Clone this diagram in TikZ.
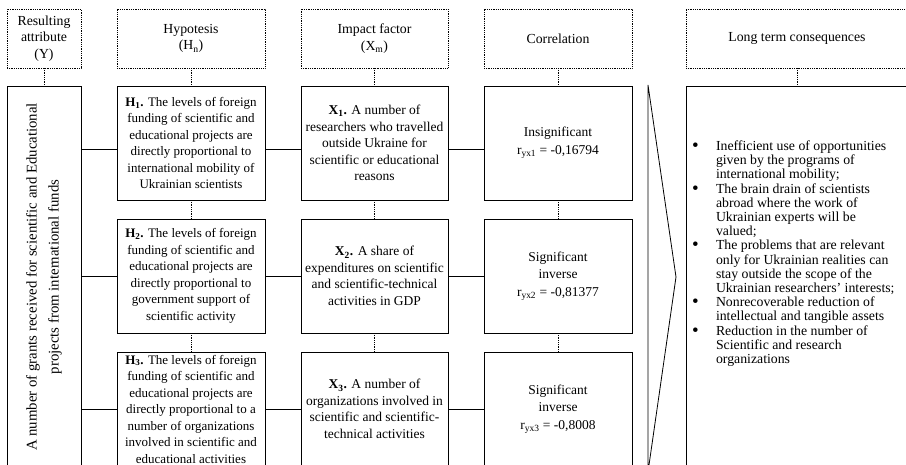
\documentclass[tikz,border=0pt]{standalone}
\usepackage{fontspec}
\setmainfont{Liberation Serif}
\newcommand{\bigbul}{\raisebox{-0.9pt}{\fontsize{19}{14}\selectfont\textbullet}}
\begin{document}
\begin{tikzpicture}[x=1pt,y=-1pt,
  every node/.style={inner sep=0pt, outer sep=0pt},
  hdr/.style={draw, line width=0.7pt, dash pattern=on 0.9pt off 0.9pt, minimum height=59pt, align=center, font=\fontsize{13.8}{16.5}\selectfont},
  cbox/.style={draw, line width=0.8pt, minimum height=114pt, align=center},
  hbox/.style={cbox, minimum width=148pt, font=\fontsize{13}{16.5}\selectfont},
  xbox/.style={cbox, minimum width=147pt, font=\fontsize{13.5}{16.5}\selectfont},
  corbox/.style={cbox, minimum width=148pt, font=\fontsize{13.5}{17.5}\selectfont},
  dotlink/.style={line width=0.7pt, dash pattern=on 0.9pt off 0.9pt},
  link/.style={line width=0.8pt}]
\path[use as bounding box] (0,0) rectangle (906,464);
\clip (0,0) rectangle (906,464);
\fill[white] (0,0) rectangle (906,464);

% headers
\node[hdr, minimum width=74pt]  (hY) at (44,38.5)  {Resulting\\attribute\\(Y)};
\node[hdr, minimum width=148pt] (hH) at (191,38.5) {Hypotesis\\(H\textsubscript{n})};
\node[hdr, minimum width=147pt] (hX) at (374.5,38.5) {Impact factor\\(X\textsubscript{m})};
\node[hdr, minimum width=148pt] (hC) at (558,38.5) {Correlation};
\node[hdr, minimum width=222pt] (hL) at (797,38.5) {Long term consequences};

% left box
\node[cbox, minimum width=74pt, minimum height=380pt] (L) at (44,276) {};
\node[rotate=90, align=center, font=\fontsize{14.8}{22}\selectfont] (Ltxt) at (44,277)
  {A number of grants received for scientific and Educational\\projects from international funds};

% hypotheses
\node[hbox] (H1) at (191,143) {\textbf{H\textsubscript{1}.} The levels of foreign\\funding of scientific and\\educational projects are\\directly proportional to\\international mobility of\\Ukrainian scientists};
\node[hbox] (H2) at (191,276) {\textbf{H\textsubscript{2}.} The levels of foreign\\funding of scientific and\\educational projects are\\directly proportional to\\government support of\\scientific activity};
\node[hbox] (H3) at (191,409) {\textbf{H\textsubscript{3}.} The levels of foreign\\funding of scientific and\\educational projects are\\directly proportional to a\\number of organizations\\involved in scientific and\\educational activities};

% impact factors
\node[xbox] (X1) at (374.5,143) {\textbf{X\textsubscript{1}.} A number of\\researchers who travelled\\outside Ukraine for\\scientific or educational\\reasons};
\node[xbox] (X2) at (374.5,276) {\textbf{X\textsubscript{2}.} A share of\\expenditures on scientific\\and scientific-technical\\activities in GDP};
\node[xbox] (X3) at (374.5,409) {\textbf{X\textsubscript{3}.} A number of\\organizations involved in\\scientific and scientific-\\technical activities};

% correlations
\node[corbox] (C1) at (558,143) {Insignificant\\r\textsubscript{yx1} = -0,16794};
\node[corbox] (C2) at (558,276) {Significant\\inverse\\r\textsubscript{yx2} = -0,81377};
\node[corbox] (C3) at (558,409) {Significant\\inverse\\r\textsubscript{yx3} = -0,8008};

% arrow shape
\draw[link] (648,85) -- (676,277) -- (648,472) -- cycle;

% long term consequences
\node[cbox, minimum width=222pt, minimum height=380pt] (R) at (797,276) {};
\node[anchor=north west, align=left, font=\fontsize{13.8}{14.2}\selectfont] (Rtxt) at (692,140.6) {%
\begin{tabular}{@{}p{24pt}@{}l@{}}
\bigbul & Inefficient use of opportunities\\
 & given by the programs of\\
 & international mobility;\\
\bigbul & The brain drain of scientists\\
 & abroad where the work of\\
 & Ukrainian experts will be\\
 & valued;\\
\bigbul & The problems that are relevant\\
 & only for Ukrainian realities can\\
 & stay outside the scope of the\\
 & Ukrainian researchers’ interests;\\
\bigbul & Nonrecoverable reduction of\\
 & intellectual and tangible assets\\
\bigbul & Reduction in the number of\\
 & Scientific and research\\
 & organizations
\end{tabular}};

% dotted links
\draw[dotlink] (hY.south) -- (L.north);
\draw[dotlink] (hH.south) -- (H1.north);
\draw[dotlink] (hX.south) -- (X1.north);
\draw[dotlink] (hC.south) -- (C1.north);
\draw[dotlink] (hL.south) -- (R.north);
\draw[dotlink] (H1.south) -- (H2.north);
\draw[dotlink] (H2.south) -- (H3.north);
\draw[dotlink] (X1.south) -- (X2.north);
\draw[dotlink] (X2.south) -- (X3.north);
\draw[dotlink] (C1.south) -- (C2.north);
\draw[dotlink] (C2.south) -- (C3.north);

% solid links
\coordinate (r1) at (0,149);
\draw[link] (L.east |- r1) -- (H1.west |- r1);
\draw[link] (H1.east |- r1) -- (X1.west |- r1);
\draw[link] (X1.east |- r1) -- (C1.west |- r1);
\draw[link] (L.east |- H2.west) -- (H2.west);
\draw[link] (H2.east) -- (X2.west);
\draw[link] (X2.east) -- (C2.west);
\draw[link] (L.east |- H3.west) -- (H3.west);
\draw[link] (H3.east) -- (X3.west);
\draw[link] (X3.east) -- (C3.west);
\end{tikzpicture}
\end{document}
